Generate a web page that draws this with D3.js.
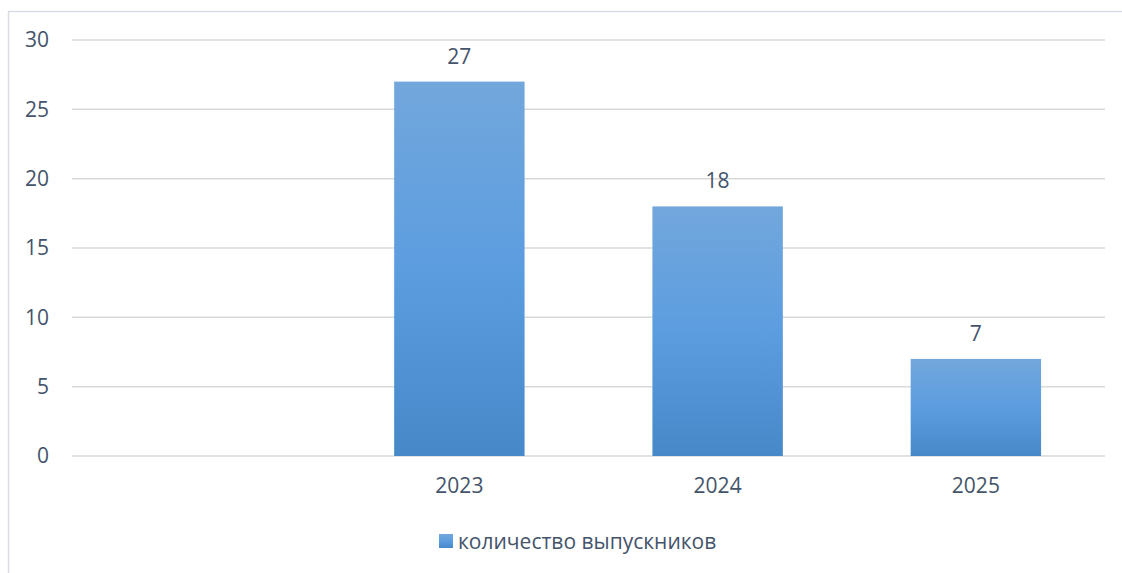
<!DOCTYPE html>
<html>
<head>
<meta charset="utf-8">
<script src="https://cdn.jsdelivr.net/npm/d3@7"></script>
<style>
  body { margin: 0; background: #fff; }
  svg text { font-family: "Open Sans", sans-serif; fill: #44546a; }
</style>
</head>
<body>
<div id="chart"></div>
<script>
// chart data
const categories = ["", "2023", "2024", "2025"];
const graduates = [null, 27, 18, 7];
const yTicks = [0, 5, 10, 15, 20, 25, 30];
const seriesName = "количество выпускников";

const W = 1122, H = 573;
const margin = {top: 40, right: 17, bottom: 117, left: 72};
const width = W - margin.left - margin.right;
const height = H - margin.top - margin.bottom;

const root = d3.select("#chart").append("svg")
    .attr("width", W)
    .attr("height", H);

// gradient fill for bars
const grad = root.append("defs").append("linearGradient")
    .attr("id", "barGrad")
    .attr("x1", 0).attr("y1", 0).attr("x2", 0).attr("y2", 1);
grad.append("stop").attr("offset", "0%").attr("stop-color", "#72a7dc");
grad.append("stop").attr("offset", "50%").attr("stop-color", "#5c9de0");
grad.append("stop").attr("offset", "100%").attr("stop-color", "#4688c8");

// outer chart border
root.append("rect")
    .attr("x", 8.5).attr("y", 11.5)
    .attr("width", 1125).attr("height", 600)
    .attr("fill", "none")
    .attr("stroke", "#d9dde3")
    .attr("stroke-width", 1.5);

const svg = root.append("g")
    .attr("transform", `translate(${margin.left},${margin.top})`);

const x = d3.scaleBand()
    .domain(categories)
    .range([0, width])
    .paddingInner(0.495)
    .paddingOuter(0.2475);

const y = d3.scaleLinear()
    .domain([0, 30])
    .range([height, 0]);

// grid lines
svg.append("g")
    .selectAll("line")
    .data(yTicks)
    .enter().append("line")
    .attr("x1", 0).attr("x2", width)
    .attr("y1", d => y(d)).attr("y2", d => y(d))
    .attr("stroke", "#d9d9d9")
    .attr("stroke-width", 1.5);

// y axis labels
const yAxis = d3.axisLeft(y).tickValues(yTicks).tickSize(0).tickPadding(23);
svg.append("g")
    .attr("class", "y-axis")
    .call(yAxis)
    .call(g => g.select(".domain").remove())
    .selectAll("text")
    .attr("font-size", 21)
    .style("fill", "#44546a")
    .attr("font-family", "Open Sans, sans-serif");

// x axis labels
const xAxis = d3.axisBottom(x).tickSize(0).tickPadding(22);
svg.append("g")
    .attr("class", "x-axis")
    .attr("transform", `translate(0,${height})`)
    .call(xAxis)
    .call(g => g.select(".domain").remove())
    .selectAll("text")
    .attr("font-size", 21)
    .style("fill", "#44546a")
    .attr("font-family", "Open Sans, sans-serif");

const barData = categories.map((c, i) => ({cat: c, val: graduates[i]}))
    .filter(d => d.val != null);

svg.selectAll(".bar")
    .data(barData)
    .enter().append("rect")
    .attr("class", "bar")
    .attr("x", d => x(d.cat))
    .attr("y", d => y(d.val))
    .attr("width", x.bandwidth())
    .attr("height", d => height - y(d.val))
    .attr("fill", "url(#barGrad)");

svg.selectAll(".label")
    .data(barData)
    .enter().append("text")
    .attr("class", "label")
    .attr("x", d => x(d.cat) + x.bandwidth() / 2)
    .attr("y", d => y(d.val) - 18)
    .attr("text-anchor", "middle")
    .attr("font-size", 21)
    .text(d => d.val);

// legend
const legend = root.append("g")
    .attr("transform", "translate(439,534)");
legend.append("rect")
    .attr("width", 14).attr("height", 14)
    .attr("fill", "url(#barGrad)");
legend.append("text")
    .attr("x", 19).attr("y", 15)
    .attr("font-size", 21)
    .text(seriesName);
</script>
</body>
</html>
